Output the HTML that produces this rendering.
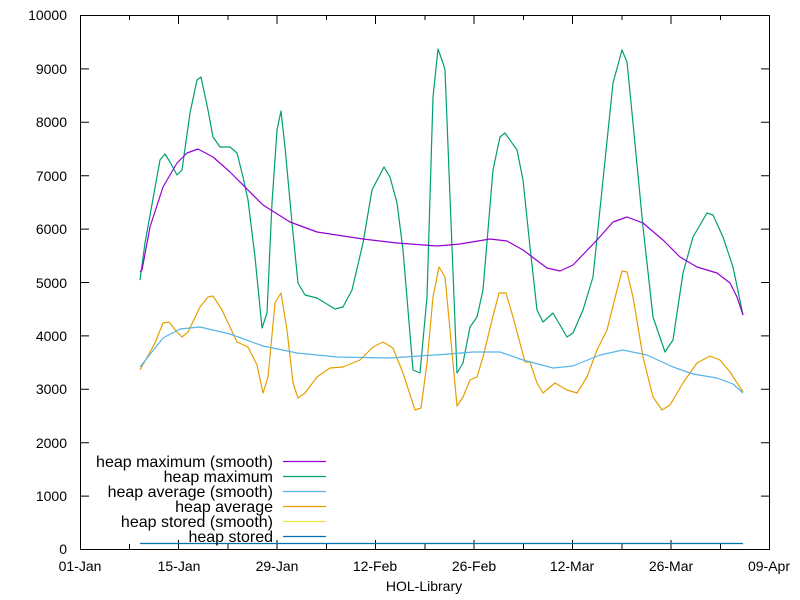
<!DOCTYPE html>
<html><head><meta charset="utf-8"><style>body{margin:0;background:#fff}svg{display:block}</style></head><body>
<svg width="800" height="600" xmlns="http://www.w3.org/2000/svg" font-family="Liberation Sans, sans-serif" font-size="14">
<rect width="800" height="600" fill="#fff"/>
<g stroke="#000" stroke-width="1" fill="none">
<rect x="80.5" y="15.5" width="689" height="534"/>
<path d="M80 15.5h9M80 68.9h9M80 122.3h9M80 175.7h9M80 229.1h9M80 282.5h9M80 335.9h9M80 389.3h9M80 442.7h9M80 496.1h9
M770 68.9h-9M770 122.3h-9M770 175.7h-9M770 229.1h-9M770 282.5h-9M770 335.9h-9M770 389.3h-9M770 442.7h-9M770 496.1h-9
M178.5 549v-9M277 549v-9M375.5 549v-9M474 549v-9M572.5 549v-9M671 549v-9
M129.5 549v-5M228 549v-5M326.5 549v-5M425 549v-5M523.5 549v-5M622 549v-5M720.5 549v-5
M178.5 15v9M277 15v9M375.5 15v9M474 15v9M572.5 15v9M671 15v9
M129.5 15v5M228 15v5M326.5 15v5M425 15v5M523.5 15v5M622 15v5M720.5 15v5"/>
</g>
<g text-anchor="end" fill="#000">
<text x="67" y="20">10000</text><text x="67" y="74">9000</text><text x="67" y="127">8000</text><text x="67" y="181">7000</text><text x="67" y="234">6000</text><text x="67" y="288">5000</text><text x="67" y="341">4000</text><text x="67" y="394">3000</text><text x="67" y="448">2000</text><text x="67" y="501">1000</text><text x="67" y="554">0</text>
</g>
<g text-anchor="middle" fill="#000">
<text x="80" y="571">01-Jan</text><text x="179" y="571">15-Jan</text><text x="277" y="571">29-Jan</text><text x="375" y="571">12-Feb</text><text x="474" y="571">26-Feb</text><text x="572" y="571">12-Mar</text><text x="671" y="571">26-Mar</text><text x="769" y="571">09-Apr</text>
<text x="424" y="591">HOL-Library</text>
</g>
<g fill="none" stroke-width="1.2" stroke-linejoin="round">
<polyline stroke="#009e73" points="140,280 145,243 160,160 165,154 170,162 177,175 182,170 190,113 197,80 201,77 208,110 213,137 220,147 230,147 237,153 243,177 248,200 255,257 262,328 267,313 272,203 277,130 281,111 285,147 292,223 298,283 305,295 317,298 335,309 343,307 352,290 363,243 372,190 384,167 390,177 397,203 403,250 413,370 420,373 427,297 433,97 438,49 443,63 445,70 450,197 457,373 463,363 470,327 477,317 483,290 493,170 500,137 505,133 517,150 523,180 530,247 537,310 543,322 553,313 567,337 573,333 583,310 593,277 603,180 613,83 622,50 627,62 633,123 643,227 653,317 665,352 673,340 683,273 693,237 707,213 713,215 723,237 733,267 743,315"/>
<polyline stroke="#e69f00" points="140,370 155,343 163,323 169,322 177,332 182,337 188,332 200,307 208,297 213,296 222,310 237,342 248,347 257,365 263,393 268,377 275,303 281,293 287,330 293,383 298,398 305,393 317,377 330,368 343,367 360,360 373,347 383,342 393,348 403,373 415,410 421,408 427,363 433,297 439,267 445,277 450,330 457,406 463,397 470,380 477,377 483,357 492,320 499,293 506,293 513,317 525,362 530,362 537,383 543,393 555,383 567,390 577,393 587,377 597,350 607,330 617,290 622,271 627,272 633,297 643,357 653,397 662,410 670,405 683,383 697,363 710,356 720,360 730,372 743,392"/>
<polyline stroke="#9400d3" points="140,272 142,270 150,227 163,187 177,163 187,153 198,149 213,157 230,172 263,205 290,222 317,232 363,239 397,243 437,246 449,245 460,244 490,239 507,241 523,250 547,268 560,271 573,265 597,240 613,222 627,217 643,223 663,240 680,257 697,267 717,273 730,283 737,297 743,315"/>
<polyline stroke="#56b4e9" points="140,367 163,338 180,329 200,327 230,334 263,346 297,353 337,357 390,358 449,354 473,352 500,352 523,360 553,368 573,366 600,355 623,350 647,355 673,367 693,374 717,378 733,384 743,393"/>
<polyline stroke="#0072b2" points="140,543.5 743,543.5"/>
</g>
<g font-size="16" text-anchor="end" fill="#000">
<text x="273" y="467">heap maximum (smooth)</text>
<text x="273" y="482">heap maximum</text>
<text x="273" y="497">heap average (smooth)</text>
<text x="273" y="512">heap average</text>
<text x="273" y="527">heap stored (smooth)</text>
<text x="273" y="542">heap stored</text>
</g>
<g stroke-width="1.2">
<line x1="283" x2="326" y1="461.5" y2="461.5" stroke="#9400d3"/>
<line x1="283" x2="326" y1="476.5" y2="476.5" stroke="#009e73"/>
<line x1="283" x2="326" y1="491.5" y2="491.5" stroke="#56b4e9"/>
<line x1="283" x2="326" y1="506.5" y2="506.5" stroke="#e69f00"/>
<line x1="283" x2="326" y1="521.5" y2="521.5" stroke="#f0e442"/>
<line x1="283" x2="326" y1="536.5" y2="536.5" stroke="#0072b2"/>
</g>
</svg>
</body></html>
